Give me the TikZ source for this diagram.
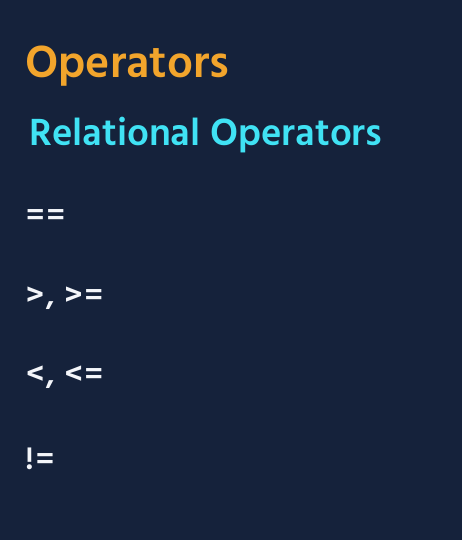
\documentclass[tikz,border=0pt]{standalone}
\usepackage{fontspec}
\setmainfont{Hind Madurai}
\definecolor{bg}{HTML}{15223B}
\definecolor{orangeT}{HTML}{F2A52C}
\definecolor{cyanT}{HTML}{40E2F4}
\definecolor{whiteT}{HTML}{F4F6FA}
\tikzset{
  title/.style={anchor=base west, inner sep=0pt, text=orangeT, font=\fontsize{46}{52}\selectfont\bfseries},
  subtitle/.style={anchor=base west, inner sep=0pt, text=cyanT, font=\fontsize{38.8}{45}\selectfont\bfseries},
  op/.style={anchor=base west, inner sep=0pt, text=whiteT, font=\fontsize{32}{38}\selectfont\bfseries\addfontfeature{LetterSpace=6}}
}
\begin{document}
\begin{tikzpicture}[x=1pt,y=1pt]
\fill[bg] (0,0) rectangle (462,540);
\useasboundingbox (0,0) rectangle (462,540);
\node[title] (t) at (25,462) {Operators};
\node[subtitle] (s) at (29,394) {Relational Operators};
\node[op] (o1) at (26,314) {==};
\node[op] (o2) at (26,234) {>, >=};
\node[op] (o3) at (26,155) {<, <=};
\node[op] (o4) at (25,70) {!=};
\end{tikzpicture}
\end{document}
